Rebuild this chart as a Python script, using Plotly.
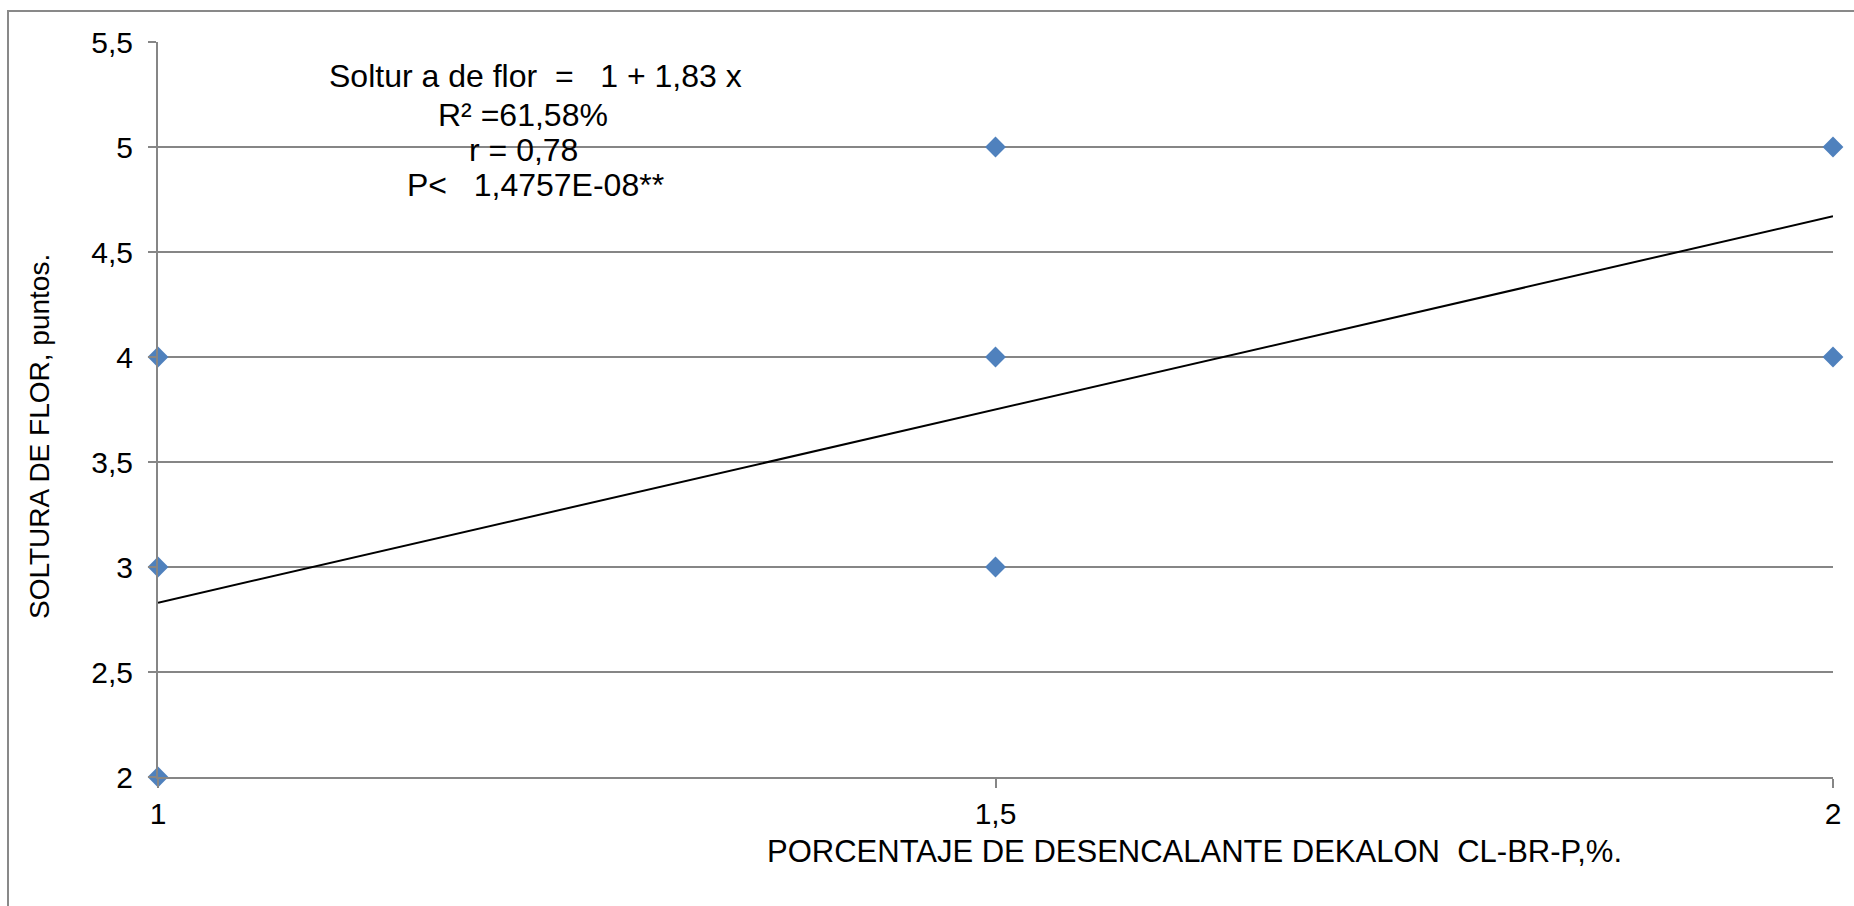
import plotly.graph_objects as go

# Data
x_vals = [1, 1, 1, 1.5, 1.5, 1.5, 2, 2]
y_vals = [4, 3, 2, 5, 4, 3, 5, 4]

trend_x = [1, 2]
trend_y = [2.83, 4.67]

x_ticks = [1, 1.5, 2]
x_tick_labels = ["1", "1,5", "2"]
y_ticks = [2, 2.5, 3, 3.5, 4, 4.5, 5, 5.5]
y_tick_labels = ["2", "2,5", "3", "3,5", "4", "4,5", "5", "5,5"]

stats_lines = [
    "Soltur a de flor\u00a0\u00a0=\u00a0\u00a0\u00a01 + 1,83 x",
    "R² =61,58%",
    "r = 0,78",
    "P<\u00a0\u00a0\u00a01,4757E-08**",
]

x_title = "PORCENTAJE DE DESENCALANTE DEKALON\u00a0\u00a0CL-BR-P,%."
y_title = "SOLTURA DE FLOR, puntos."

FONT = "Liberation Sans, Arial, sans-serif"
GRID = "#868686"

W, H = 1854, 906
L, R, T, B = 158, 21, 42, 129
pw, ph = W - L - R, H - T - B


def px_to_paper_x(px):
    return (px - L) / pw


def px_to_paper_y(py):
    return (H - B - py) / ph


fig = go.Figure()

fig.add_trace(go.Scatter(
    x=trend_x, y=trend_y, mode="lines",
    line=dict(color="black", width=2),
    hoverinfo="skip", showlegend=False, cliponaxis=False,
))

fig.add_trace(go.Scatter(
    x=x_vals, y=y_vals, mode="markers",
    marker=dict(symbol="diamond", size=16, color="#4F81BD",
                line=dict(width=0)),
    showlegend=False, cliponaxis=False,
))

annotations = []
line_x = [535, 523, 523, 535]
line_y = [76, 114.5, 150, 185]
for txt, xx, yy in zip(stats_lines, line_x, line_y):
    annotations.append(dict(
        text=txt, x=px_to_paper_x(xx), y=px_to_paper_y(yy),
        xref="paper", yref="paper", xanchor="center", yanchor="middle",
        showarrow=False, font=dict(family=FONT, size=32, color="black"),
    ))

annotations.append(dict(
    text=x_title, x=px_to_paper_x(1194), y=px_to_paper_y(851),
    xref="paper", yref="paper", xanchor="center", yanchor="middle",
    showarrow=False, font=dict(family=FONT, size=31, color="black"),
))
annotations.append(dict(
    text=y_title, x=px_to_paper_x(40), y=px_to_paper_y(437),
    xref="paper", yref="paper", xanchor="center", yanchor="middle",
    textangle=-90,
    showarrow=False, font=dict(family=FONT, size=28, color="black"),
))

fig.update_layout(
    width=W, height=H,
    margin=dict(l=L, r=R, t=T, b=B, pad=0),
    paper_bgcolor="white", plot_bgcolor="white",
    separators=",.",
    annotations=annotations,
    shapes=[dict(
        type="rect", xref="paper", yref="paper",
        x0=px_to_paper_x(8), x1=px_to_paper_x(1880),
        y0=px_to_paper_y(930), y1=px_to_paper_y(11),
        line=dict(color="#898989", width=2), fillcolor="rgba(0,0,0,0)",
        layer="below",
    )],
    xaxis=dict(
        range=[1, 2], tickvals=x_ticks, ticktext=x_tick_labels,
        showgrid=False, zeroline=False,
        showline=True, linecolor=GRID, linewidth=2,
        ticks="outside", ticklen=9, tickwidth=2, tickcolor=GRID,
        tickfont=dict(family=FONT, size=30, color="black"),
        ticklabelstandoff=0,
    ),
    yaxis=dict(
        range=[2, 5.5], tickvals=y_ticks, ticktext=y_tick_labels,
        showgrid=True, gridcolor=GRID, gridwidth=2, zeroline=False,
        showline=True, linecolor=GRID, linewidth=2,
        ticks="outside", ticklen=8, tickwidth=2, tickcolor=GRID,
        tickfont=dict(family=FONT, size=30, color="black"),
        ticklabelstandoff=9,
    ),
)

fig.write_html("out.html", config={"displayModeBar": False},
               post_script="document.body.style.margin='0';document.body.style.overflow='hidden';")
